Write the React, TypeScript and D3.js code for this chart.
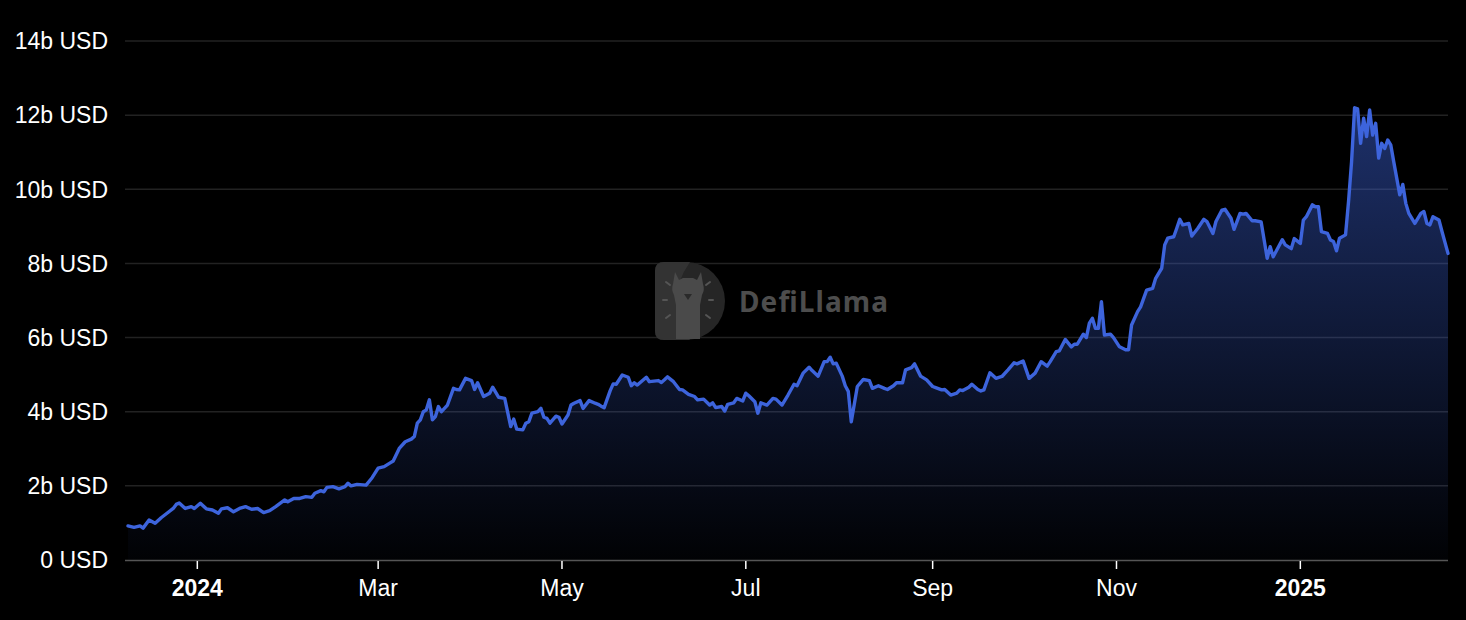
import * as d3 from "d3";
import { useEffect, useRef } from "react";

// y axis ticks, in billions of USD
const yTicks = [0, 2, 4, 6, 8, 10, 12, 14];

// x axis ticks (first day of every other month)
const xTicks = [
	"2024-01-01",
	"2024-03-01",
	"2024-05-01",
	"2024-07-01",
	"2024-09-01",
	"2024-11-01",
	"2025-01-01",
];

const xDomain = ["2023-12-09", "2025-02-19"];

// TVL in billions of USD
const tvl: [string, number][] = [
	["2023-12-09", 0.92], ["2023-12-11", 0.88], ["2023-12-13", 0.92], ["2023-12-14", 0.86],
	["2023-12-16", 1.08], ["2023-12-18", 0.99], ["2023-12-20", 1.14], ["2023-12-24", 1.39],
	["2023-12-25", 1.5], ["2023-12-26", 1.54], ["2023-12-28", 1.39], ["2023-12-30", 1.44],
	["2023-12-31", 1.39], ["2024-01-02", 1.53], ["2024-01-04", 1.38], ["2024-01-06", 1.35],
	["2024-01-08", 1.26], ["2024-01-09", 1.38], ["2024-01-11", 1.41], ["2024-01-13", 1.3],
	["2024-01-15", 1.39], ["2024-01-17", 1.44], ["2024-01-19", 1.37], ["2024-01-21", 1.39],
	["2024-01-23", 1.28], ["2024-01-25", 1.33], ["2024-01-27", 1.44], ["2024-01-30", 1.62],
	["2024-01-31", 1.57], ["2024-02-02", 1.66], ["2024-02-04", 1.66], ["2024-02-06", 1.71],
	["2024-02-08", 1.69], ["2024-02-09", 1.8], ["2024-02-11", 1.87], ["2024-02-12", 1.84],
	["2024-02-13", 1.96], ["2024-02-15", 1.98], ["2024-02-17", 1.92], ["2024-02-19", 1.98],
	["2024-02-20", 2.07], ["2024-02-21", 2.0], ["2024-02-23", 2.04], ["2024-02-26", 2.02],
	["2024-02-28", 2.22], ["2024-03-01", 2.48], ["2024-03-03", 2.52], ["2024-03-05", 2.62],
	["2024-03-06", 2.67], ["2024-03-08", 3.01], ["2024-03-10", 3.19], ["2024-03-12", 3.26],
	["2024-03-13", 3.33], ["2024-03-14", 3.69], ["2024-03-15", 3.78], ["2024-03-16", 4.0],
	["2024-03-17", 4.05], ["2024-03-18", 4.32], ["2024-03-19", 3.78], ["2024-03-20", 3.87],
	["2024-03-21", 4.14], ["2024-03-22", 4.0], ["2024-03-24", 4.18], ["2024-03-26", 4.63],
	["2024-03-27", 4.6], ["2024-03-28", 4.59], ["2024-03-30", 4.9], ["2024-04-01", 4.84],
	["2024-04-02", 4.6], ["2024-04-03", 4.78], ["2024-04-05", 4.41], ["2024-04-07", 4.5],
	["2024-04-08", 4.66], ["2024-04-10", 4.39], ["2024-04-12", 4.36], ["2024-04-14", 3.6],
	["2024-04-15", 3.8], ["2024-04-16", 3.53], ["2024-04-18", 3.51], ["2024-04-19", 3.69],
	["2024-04-20", 3.73], ["2024-04-21", 3.96], ["2024-04-23", 4.0], ["2024-04-24", 4.09],
	["2024-04-25", 3.85], ["2024-04-26", 3.82], ["2024-04-27", 3.69], ["2024-04-29", 3.88],
	["2024-04-30", 3.85], ["2024-05-01", 3.67], ["2024-05-03", 3.91], ["2024-05-04", 4.18],
	["2024-05-05", 4.23], ["2024-05-07", 4.3], ["2024-05-08", 4.09], ["2024-05-10", 4.3],
	["2024-05-12", 4.23], ["2024-05-13", 4.2], ["2024-05-14", 4.15], ["2024-05-15", 4.11],
	["2024-05-17", 4.57], ["2024-05-18", 4.75], ["2024-05-19", 4.74], ["2024-05-21", 4.99],
	["2024-05-23", 4.93], ["2024-05-24", 4.7], ["2024-05-25", 4.78], ["2024-05-26", 4.72],
	["2024-05-29", 4.93], ["2024-05-30", 4.81], ["2024-06-02", 4.84], ["2024-06-03", 4.79],
	["2024-06-04", 4.86], ["2024-06-05", 4.94], ["2024-06-07", 4.81], ["2024-06-09", 4.6],
	["2024-06-10", 4.59], ["2024-06-12", 4.47], ["2024-06-14", 4.41], ["2024-06-15", 4.32],
	["2024-06-17", 4.34], ["2024-06-19", 4.18], ["2024-06-20", 4.24], ["2024-06-21", 4.11],
	["2024-06-23", 4.14], ["2024-06-24", 4.02], ["2024-06-25", 4.2], ["2024-06-27", 4.24],
	["2024-06-28", 4.36], ["2024-06-30", 4.29], ["2024-07-01", 4.5], ["2024-07-02", 4.43],
	["2024-07-04", 4.27], ["2024-07-05", 3.96], ["2024-07-06", 4.24], ["2024-07-08", 4.18],
	["2024-07-10", 4.36], ["2024-07-11", 4.34], ["2024-07-13", 4.18], ["2024-07-15", 4.45],
	["2024-07-17", 4.74], ["2024-07-18", 4.7], ["2024-07-20", 5.04], ["2024-07-22", 5.2],
	["2024-07-23", 5.11], ["2024-07-25", 4.96], ["2024-07-27", 5.35], ["2024-07-28", 5.35],
	["2024-07-29", 5.47], ["2024-07-30", 5.29], ["2024-07-31", 5.31], ["2024-08-02", 4.96],
	["2024-08-03", 4.7], ["2024-08-04", 4.55], ["2024-08-05", 3.73], ["2024-08-07", 4.68],
	["2024-08-09", 4.87], ["2024-08-11", 4.84], ["2024-08-12", 4.63], ["2024-08-14", 4.7],
	["2024-08-16", 4.63], ["2024-08-17", 4.6], ["2024-08-19", 4.7], ["2024-08-20", 4.78],
	["2024-08-22", 4.78], ["2024-08-23", 5.13], ["2024-08-25", 5.19], ["2024-08-26", 5.29],
	["2024-08-28", 4.96], ["2024-08-30", 4.86], ["2024-09-01", 4.68], ["2024-09-02", 4.65],
	["2024-09-04", 4.59], ["2024-09-05", 4.6], ["2024-09-07", 4.45], ["2024-09-09", 4.5],
	["2024-09-10", 4.59], ["2024-09-11", 4.57], ["2024-09-13", 4.66], ["2024-09-14", 4.74],
	["2024-09-16", 4.6], ["2024-09-17", 4.56], ["2024-09-18", 4.59], ["2024-09-20", 5.05],
	["2024-09-22", 4.9], ["2024-09-24", 4.95], ["2024-09-26", 5.13], ["2024-09-28", 5.32],
	["2024-09-29", 5.29], ["2024-10-01", 5.37], ["2024-10-03", 4.9], ["2024-10-05", 5.04],
	["2024-10-07", 5.35], ["2024-10-09", 5.23], ["2024-10-10", 5.35], ["2024-10-12", 5.62],
	["2024-10-13", 5.64], ["2024-10-15", 5.95], ["2024-10-17", 5.75], ["2024-10-18", 5.82],
	["2024-10-19", 5.82], ["2024-10-21", 6.09], ["2024-10-22", 6.0], ["2024-10-23", 6.39],
	["2024-10-24", 6.52], ["2024-10-25", 6.25], ["2024-10-26", 6.25], ["2024-10-27", 6.97],
	["2024-10-28", 6.07], ["2024-10-30", 6.09], ["2024-10-31", 6.0], ["2024-11-02", 5.75],
	["2024-11-04", 5.67], ["2024-11-05", 5.67], ["2024-11-06", 6.34], ["2024-11-08", 6.7],
	["2024-11-09", 6.83], ["2024-11-11", 7.28], ["2024-11-13", 7.33], ["2024-11-14", 7.6],
	["2024-11-16", 7.87], ["2024-11-17", 8.5], ["2024-11-18", 8.68], ["2024-11-20", 8.72],
	["2024-11-21", 8.95], ["2024-11-22", 9.19], ["2024-11-23", 9.04], ["2024-11-25", 9.08],
	["2024-11-26", 8.74], ["2024-11-28", 8.95], ["2024-11-30", 9.19], ["2024-12-01", 9.13],
	["2024-12-03", 8.81], ["2024-12-04", 9.13], ["2024-12-06", 9.44], ["2024-12-07", 9.46],
	["2024-12-09", 9.22], ["2024-12-10", 8.92], ["2024-12-12", 9.35], ["2024-12-13", 9.33],
	["2024-12-14", 9.35], ["2024-12-16", 9.15], ["2024-12-17", 9.15], ["2024-12-19", 9.12],
	["2024-12-21", 8.14], ["2024-12-22", 8.45], ["2024-12-23", 8.18], ["2024-12-26", 8.64],
	["2024-12-27", 8.5], ["2024-12-29", 8.4], ["2024-12-30", 8.67], ["2025-01-01", 8.54],
	["2025-01-02", 9.17], ["2025-01-03", 9.26], ["2025-01-05", 9.58], ["2025-01-06", 9.53],
	["2025-01-07", 9.53], ["2025-01-08", 8.86], ["2025-01-10", 8.81], ["2025-01-11", 8.63],
	["2025-01-12", 8.59], ["2025-01-13", 8.34], ["2025-01-14", 8.68], ["2025-01-16", 8.77],
	["2025-01-17", 9.67], ["2025-01-18", 10.74], ["2025-01-19", 12.2], ["2025-01-20", 12.17],
	["2025-01-21", 11.24], ["2025-01-22", 11.92], ["2025-01-23", 11.42], ["2025-01-24", 12.14],
	["2025-01-25", 11.46], ["2025-01-26", 11.78], ["2025-01-27", 10.84], ["2025-01-28", 11.24],
	["2025-01-29", 11.1], ["2025-01-30", 11.33], ["2025-01-31", 11.2], ["2025-02-01", 10.74],
	["2025-02-03", 9.85], ["2025-02-04", 10.13], ["2025-02-05", 9.62], ["2025-02-06", 9.35],
	["2025-02-08", 9.08], ["2025-02-10", 9.35], ["2025-02-11", 9.4], ["2025-02-12", 9.08],
	["2025-02-13", 9.04], ["2025-02-14", 9.26], ["2025-02-16", 9.17], ["2025-02-17", 8.86],
	["2025-02-19", 8.27],
];

const W = 1466;
const H = 620;
const LINE = "#3d64dc";
const FONT = '"Liberation Sans", Arial, Helvetica, sans-serif';

export default function App() {
	const svgRef = useRef<SVGSVGElement>(null);

	useEffect(() => {
		const svg = d3.select(svgRef.current);
		if (!svg.node()) return;
		svg.selectAll("*").remove();

		const parse = d3.timeParse("%Y-%m-%d");
		const data = tvl.map(([d, v]) => ({ date: parse(d) as Date, value: v }));

		const xScale = d3
			.scaleTime()
			.domain(xDomain.map((d) => parse(d) as Date))
			.range([128, 1448]);
		const yScale = d3.scaleLinear().domain([0, 14]).range([560, 41]);

		svg.append("rect").attr("width", W).attr("height", H).attr("fill", "#000");

		// gradient for the area
		const grad = svg
			.append("defs")
			.append("linearGradient")
			.attr("id", "tvlFill")
			.attr("x1", 0)
			.attr("y1", 0)
			.attr("x2", 0)
			.attr("y2", 1);
		grad.append("stop").attr("offset", 0).attr("stop-color", LINE).attr("stop-opacity", 0.48);
		grad.append("stop").attr("offset", 1).attr("stop-color", LINE).attr("stop-opacity", 0.02);

		// grid lines
		svg
			.append("g")
			.selectAll("line")
			.data(yTicks.filter((t) => t > 0))
			.join("line")
			.attr("x1", 125)
			.attr("x2", 1448)
			.attr("y1", (d) => yScale(d))
			.attr("y2", (d) => yScale(d))
			.attr("stroke", "#222")
			.attr("stroke-width", 1.5);

		// y labels
		svg
			.append("g")
			.selectAll("text")
			.data(yTicks)
			.join("text")
			.attr("x", 108)
			.attr("y", (d) => yScale(d))
			.attr("dy", "0.36em")
			.attr("text-anchor", "end")
			.attr("fill", "#fff")
			.style("font-family", FONT)
			.style("font-size", "23px")
			.text((d) => (d === 0 ? "0 USD" : `${d}b USD`));

		// watermark
		const wm = svg.append("g");
		wm.append("path")
			.attr("d", "M655,271 q0,-9 9,-9 h22 a39,39 0 0 1 0,78 h-22 q-9,0 -9,-9 z")
			.attr("fill", "#262626");
		wm.append("path")
			.attr("d", "M664,262 h26 q-14,20 -14,39 q0,20 14,39 h-26 q-9,0 -9,-9 v-60 q0,-9 9,-9 z")
			.attr("fill", "#333");
		wm.append("path")
			.attr(
				"d",
				"M675,272 l4,8 l4,-2 h10 l4,2 l4,-8 l2,12 q2,6 -1,11 l-2,10 v34 h-24 v-34 l-2,-10 q-3,-5 -1,-11 z",
			)
			.attr("fill", "#4a4a4a");
		wm.append("path").attr("d", "M684,294 h8 l-4,6 z").attr("fill", "#2a2a2a");
		const marks: [number, number, number, number][] = [
			[663, 300, 667, 300],
			[666, 282, 670, 285],
			[710, 282, 706, 285],
			[713, 300, 709, 300],
			[666, 318, 670, 315],
			[710, 318, 706, 315],
		];
		wm.selectAll("line.mark")
			.data(marks)
			.join("line")
			.attr("x1", (d) => d[0])
			.attr("y1", (d) => d[1])
			.attr("x2", (d) => d[2])
			.attr("y2", (d) => d[3])
			.attr("stroke", "#555")
			.attr("stroke-width", 2)
			.attr("stroke-linecap", "round");
		wm.append("text")
			.attr("x", 739)
			.attr("y", 312)
			.attr("fill", "#4d4d4d")
			.attr("textLength", 149)
			.style("font-family", '"Noto Sans", "Open Sans", sans-serif')
			.style("font-weight", "700")
			.style("font-size", "28px")
			.text("DefiLlama");

		// area + line
		const area = d3
			.area<{ date: Date; value: number }>()
			.x((d) => xScale(d.date))
			.y0(yScale(0))
			.y1((d) => yScale(d.value));
		const line = d3
			.line<{ date: Date; value: number }>()
			.x((d) => xScale(d.date))
			.y((d) => yScale(d.value));

		svg.append("path").datum(data).attr("d", area).attr("fill", "url(#tvlFill)");
		svg
			.append("path")
			.datum(data)
			.attr("d", line)
			.attr("fill", "none")
			.attr("stroke", LINE)
			.attr("stroke-width", 3.4)
			.attr("stroke-linejoin", "round")
			.attr("stroke-linecap", "round");

		// x axis
		svg
			.append("line")
			.attr("x1", 125)
			.attr("x2", 1448)
			.attr("y1", 560.5)
			.attr("y2", 560.5)
			.attr("stroke", "#555")
			.attr("stroke-width", 1.5);

		const ticks = xTicks.map((d) => parse(d) as Date);
		const xg = svg.append("g");
		xg.selectAll("line")
			.data(ticks)
			.join("line")
			.attr("x1", (d) => xScale(d))
			.attr("x2", (d) => xScale(d))
			.attr("y1", 561)
			.attr("y2", 569)
			.attr("stroke", "#fff")
			.attr("stroke-width", 1.5);
		xg.selectAll("text")
			.data(ticks)
			.join("text")
			.attr("x", (d) => xScale(d))
			.attr("y", 596)
			.attr("text-anchor", "middle")
			.attr("fill", "#fff")
			.style("font-family", FONT)
			.style("font-size", "23px")
			.style("font-weight", (d) => (d.getMonth() === 0 ? "700" : "400"))
			.text((d) => (d.getMonth() === 0 ? d3.timeFormat("%Y")(d) : d3.timeFormat("%b")(d)));
	}, []);

	return (
		<div style={{ position: "absolute", left: 0, top: 0, width: W, height: H }}>
			<svg ref={svgRef} width={W} height={H} style={{ display: "block" }} />
		</div>
	);
}
